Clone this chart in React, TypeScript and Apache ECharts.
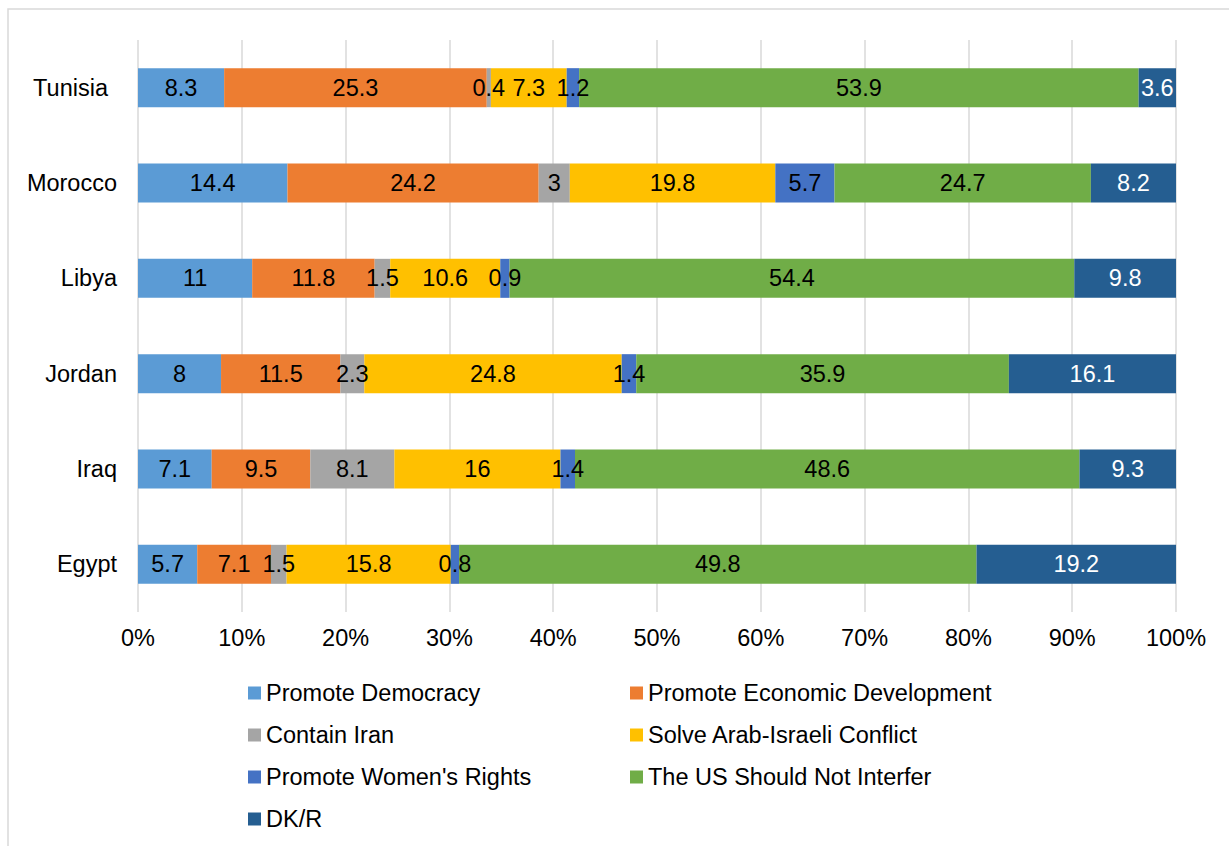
import React, { useEffect, useRef } from "react";
import * as echarts from "echarts";

const countries = ["Egypt", "Iraq", "Jordan", "Libya", "Morocco", "Tunisia"];
const seriesNames = [
  "Promote Democracy",
  "Promote Economic Development",
  "Contain Iran",
  "Solve Arab-Israeli Conflict",
  "Promote Women's Rights",
  "The US Should Not Interfer",
  "DK/R",
];
const colors = ["#5B9BD5", "#ED7D31", "#A5A5A5", "#FFC000", "#4472C4", "#70AD47", "#255E91"];
// values per series, in the order of countries (Egypt .. Tunisia)
const promoteDemocracy = [5.7, 7.1, 8, 11, 14.4, 8.3];
const promoteEconomic = [7.1, 9.5, 11.5, 11.8, 24.2, 25.3];
const containIran = [1.5, 8.1, 2.3, 1.5, 3, 0.4];
const solveConflict = [15.8, 16, 24.8, 10.6, 19.8, 7.3];
const womensRights = [0.8, 1.4, 1.4, 0.9, 5.7, 1.2];
const shouldNotInterfere = [49.8, 48.6, 35.9, 54.4, 24.7, 53.9];
const dkr = [19.2, 9.3, 16.1, 9.8, 8.2, 3.6];
const allValues = [
  promoteDemocracy,
  promoteEconomic,
  containIran,
  solveConflict,
  womensRights,
  shouldNotInterfere,
  dkr,
];
const tickLabels = ["0%", "10%", "20%", "30%", "40%", "50%", "60%", "70%", "80%", "90%", "100%"];

const FONT = "'Liberation Sans', Arial, sans-serif";

export default function App() {
  const ref = useRef<HTMLDivElement>(null);
  useEffect(() => {
    if (!ref.current) return;
    const chart = echarts.init(ref.current, null, { renderer: "svg" });
    const totals = countries.map((_, ci) =>
      allValues.reduce((s, arr) => s + arr[ci], 0)
    );
    const series = seriesNames.map((name, si) => ({
      name,
      type: "bar",
      stack: "total",
      barWidth: 39,
      itemStyle: { color: colors[si] },
      data: allValues[si].map((v, ci) => (v / totals[ci]) * 100),
      label: {
        show: true,
        position: "inside",
        fontFamily: FONT,
        fontSize: 23.5,
        color: si === 6 ? "#ffffff" : "#000000",
        formatter: (p: any) => String(allValues[si][p.dataIndex]),
      },
    }));
    const col1 = [seriesNames[0], seriesNames[2], seriesNames[4], seriesNames[6]];
    const col2 = [seriesNames[1], seriesNames[3], seriesNames[5]];
    const legendBase = {
      orient: "vertical",
      top: 680,
      padding: 0,
      itemWidth: 13,
      itemHeight: 13,
      itemGap: 16,
      icon: "rect",
      textStyle: { fontFamily: FONT, fontSize: 23.5, color: "#000", lineHeight: 26 },
    };
    chart.setOption({
      animation: false,
      backgroundColor: "#ffffff",
      grid: { left: 138, right: 1229 - 1176, top: 40, bottom: 846 - 612, containLabel: false },
      xAxis: {
        type: "value",
        min: 0,
        max: 100,
        interval: 10,
        axisLine: { show: false },
        axisTick: { show: false },
        splitLine: { show: true, lineStyle: { color: "#d9d9d9", width: 1.5 } },
        axisLabel: {
          fontFamily: FONT,
          fontSize: 23.5,
          color: "#000",
          margin: 14,
          formatter: (v: number) => tickLabels[Math.round(v / 10)],
        },
      },
      yAxis: {
        type: "category",
        data: countries,
        axisLine: { show: false },
        axisTick: { show: false },
        axisLabel: {
          fontFamily: FONT,
          fontSize: 23.5,
          color: "#000",
          margin: 21,
          formatter: (v: string) => (v === "Tunisia" ? "{t|" + v + "}" : v),
          rich: { t: { fontFamily: FONT, fontSize: 23.5, color: "#000", padding: [0, 9, 0, 0] } },
        },
      },
      legend: [
        { ...legendBase, left: 248, data: col1 },
        { ...legendBase, left: 630, data: col2 },
      ],
      graphic: [
        {
          type: "rect",
          shape: { x: 8, y: 9, width: 1300, height: 900 },
          style: { fill: "none", stroke: "#d9d9d9", lineWidth: 1.5 },
          silent: true,
        },
      ],
      series,
    });
    return () => chart.dispose();
  }, []);
  return (
    <div
      ref={ref}
      style={{ position: "fixed", left: 0, top: 0, width: 1229, height: 846 }}
    />
  );
}
